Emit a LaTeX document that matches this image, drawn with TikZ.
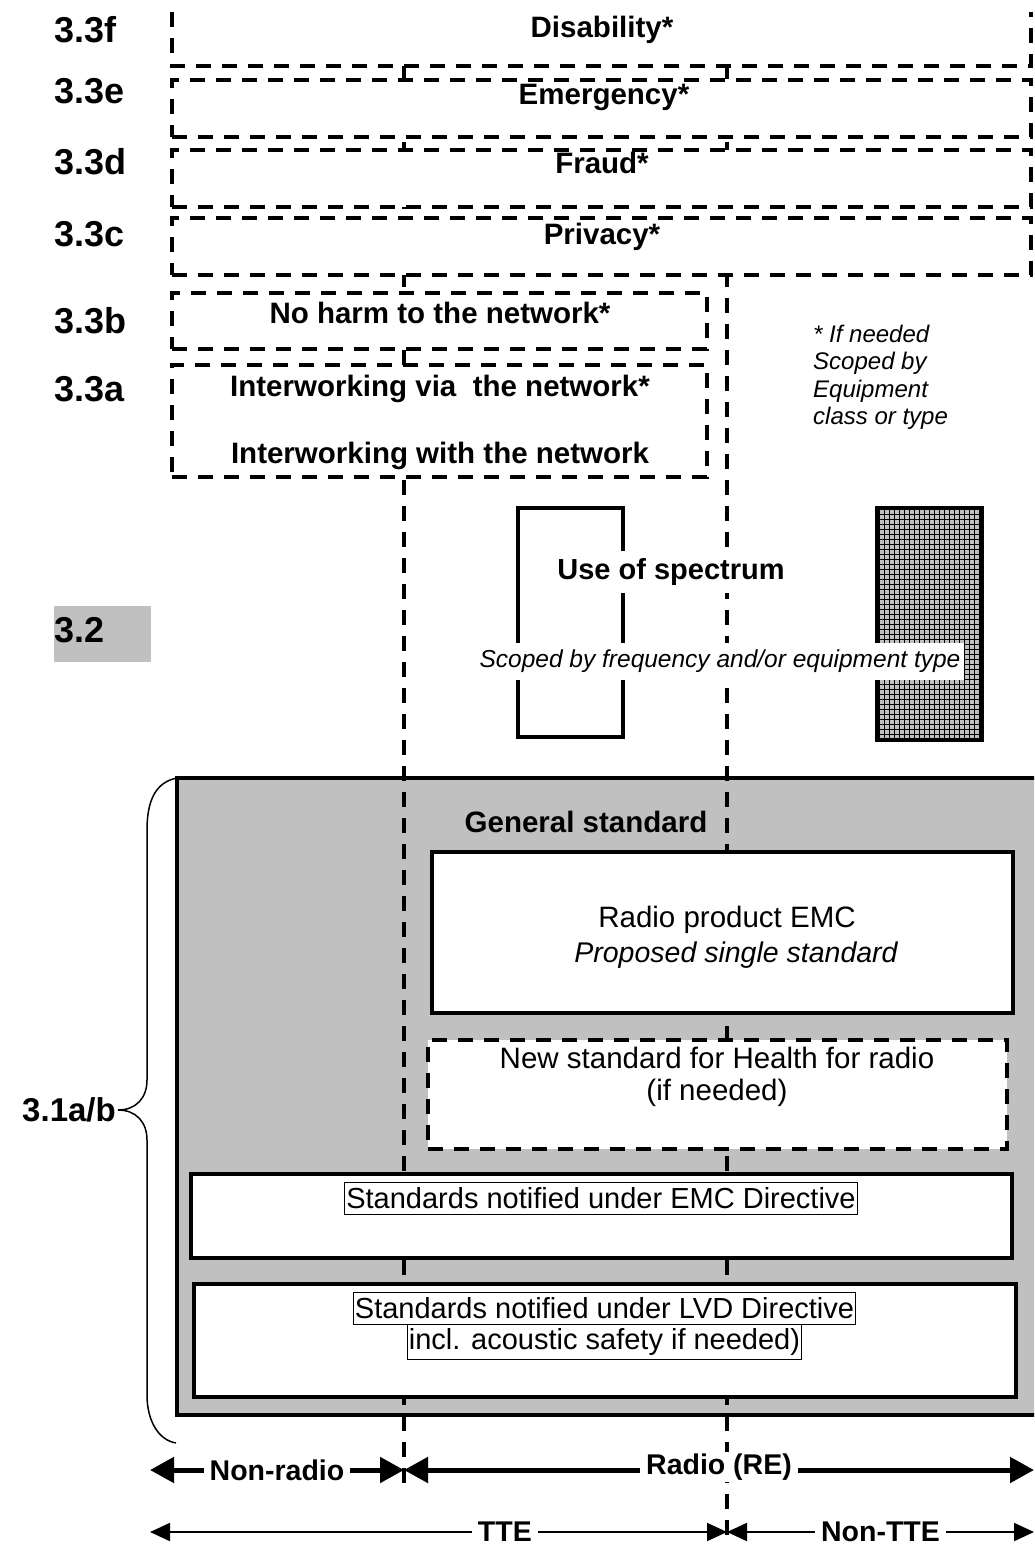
\documentclass[tikz,border=0pt]{standalone}
\usepackage{fontspec}
\setmainfont{Liberation Sans}
\usetikzlibrary{arrows.meta}
\definecolor{boxgray}{RGB}{192,192,192}
\newcommand{\myfs}[1]{\fontsize{#1pt}{#1pt}\selectfont}
\begin{document}
\begin{tikzpicture}[x=1pt,y=-1pt,
  dpat/.style={line width=3.2pt, dash pattern=on 15pt off 11pt},
  dbox/.style={draw, dpat, fill=white, inner sep=0pt, outer sep=0pt, anchor=north west},
  sbox/.style={draw, line width=3.2pt, fill=white, inner sep=0pt, outer sep=0pt, anchor=north west},
  lbl/.style={font=\bfseries\myfs{36}, anchor=base west, inner sep=0pt},
  ttl/.style={font=\bfseries\myfs{29.5}, anchor=base, inner sep=0pt},
  txt/.style={font=\myfs{29.5}, inner sep=0pt},
  frm/.style={draw, line width=1pt, fill=white, font=\myfs{29}, inner xsep=1.5pt, inner ysep=0pt, outer sep=0pt, minimum height=32pt},
  fn/.style={font=\itshape\myfs{24}, anchor=base west, inner sep=0pt},
  arrlbl/.style={fill=white, font=\bfseries\myfs{28.5}, inner xsep=6pt, inner ysep=2pt},
  bigtip/.style={line width=5pt, {Triangle[length=24pt,width=25pt]}-{Triangle[length=24pt,width=25pt]}},
  smalltip/.style={line width=2pt, {Triangle[length=20pt,width=18pt]}-{Triangle[length=20pt,width=18pt]}}
]
\useasboundingbox (0,0) rectangle (1034,1546);
\clip (0,0) rectangle (1034,1546);

% big gray box
\node[draw, line width=3.2pt, fill=boxgray, inner sep=0pt, outer sep=0pt, anchor=north west,
      minimum width=865pt, minimum height=637pt] (gbox) at (177,778) {};

% 3.2 gray label background
\node[fill=boxgray, inner sep=0pt, anchor=north west, minimum width=97pt, minimum height=56pt] (g32) at (54,606) {};

% vertical dashed separators
\coordinate (vA0) at (404,12);
\coordinate (vA1) at (404,1493);
\coordinate (vB0) at (727,12);
\coordinate (vB1) at (727,1546);
\draw[dpat] (vA0) -- (vA1);
\draw[dpat] (vB0) -- (vB1);

% top box (3.3f), open at top
\fill[white] (172,12) rectangle (1031,66);
\draw[dpat] (172,12) -- (172,66) -- (1031,66) -- (1031,12);
\node[dbox, minimum width=859pt, minimum height=57pt] (be) at (172,80) {};
\node[dbox, minimum width=859pt, minimum height=57pt] (bd) at (172,150) {};
\node[dbox, minimum width=859pt, minimum height=57pt] (bc) at (172,218) {};
\node[dbox, minimum width=535pt, minimum height=56pt] (bb) at (172,293) {};
\node[dbox, minimum width=535pt, minimum height=112pt] (ba) at (172,365) {};

% titles
\node[ttl] (tf) at (602,38) {Disability*};
\node[ttl] (te) at (604,105) {Emergency*};
\node[ttl] (td) at (602,174) {Fraud*};
\node[ttl] (tc) at (602,245) {Privacy*};
\node[ttl] (tb) at (440,323) {No harm to the network*};
\node[ttl] (ta1) at (440,396) {Interworking via\ \ the network*};
\node[ttl] (ta2) at (440,463) {Interworking with the network};

% left labels
\node[lbl] (l3f) at (54,43) {3.3f};
\node[lbl] (l3e) at (54,104) {3.3e};
\node[lbl] (l3d) at (54,175) {3.3d};
\node[lbl] (l3c) at (54,247) {3.3c};
\node[lbl] (l3b) at (54,333) {3.3b};
\node[lbl] (l3a) at (54,401) {3.3a};
\node[lbl] (l32) at (54,642) {3.2};
\node[font=\bfseries\myfs{33}, anchor=east, inner sep=0pt] (l31) at (116,1110) {3.1a/b};

% footnote
\node[fn] (fn1) at (813,342) {* If needed};
\node[fn] (fn2) at (813,369) {Scoped by};
\node[fn] (fn3) at (813,397) {Equipment};
\node[fn] (fn4) at (813,424) {class or type};

% use of spectrum
\node[sbox, minimum width=105pt, minimum height=229pt] (spec) at (518,508) {};
\node[fill=white, font=\bfseries\myfs{29}, inner xsep=5pt, inner ysep=0pt, minimum height=42pt] (spect) at (671,572) {Use of spectrum};
\node[draw, line width=3.5pt, fill=boxgray, inner sep=0pt, outer sep=0pt, anchor=north west,
      minimum width=105pt, minimum height=232pt,
      path picture={\draw[line width=0.6pt, step=5pt] (path picture bounding box.south west) grid (path picture bounding box.north east);}] (hatch) at (877,508) {};
\node[fill=white, font=\itshape\myfs{24.5}, inner xsep=4pt, inner ysep=0pt, minimum height=37pt] (scoped) at (720,661) {Scoped by frequency and/or equipment type};

% general standard area
\node[ttl, anchor=center] (gen) at (586,822) {General standard};
\node[sbox, minimum width=581pt, minimum height=161pt] (remc) at (432,852) {};
\node[txt] (remc1) at (727,920) {Radio product EMC};
\node[txt, font=\itshape\myfs{28.5}] (remc2) at (736,955) {Proposed single standard};
\node[dbox, minimum width=579pt, minimum height=109pt] (health) at (428,1040) {};
\node[txt] (health1) at (717,1058) {New standard for Health for radio};
\node[txt] (health2) at (717,1093) {(if needed)};

\node[sbox, minimum width=821pt, minimum height=84pt] (emc) at (191,1174) {};
\node[frm] (emct) at (601,1198) {Standards notified under EMC Directive};
\node[sbox, minimum width=822pt, minimum height=113pt] (lvd) at (194,1284) {};
\node[frm] (lvdt1) at (604.5,1308) {Standards notified under LVD Directive};
\node[frm, anchor=north, minimum height=35pt] (lvdt2) at (lvdt1.south) {incl. acoustic safety if needed)};

% brace
\draw[line width=1.5pt] (177,778) .. controls (156,782) and (147,800) .. (147,830)
  -- (147,1080) .. controls (147,1098) and (136,1110) .. (118,1110)
  .. controls (136,1110) and (147,1122) .. (147,1140)
  -- (147,1395) .. controls (147,1420) and (158,1440) .. (176,1443);

% bottom arrows
\coordinate (aL1) at (150,1470);
\coordinate (aM1) at (404,1470);
\coordinate (aR1) at (1034,1470);
\coordinate (aL2) at (150,1532);
\coordinate (aM2) at (727,1532);
\coordinate (aR2) at (1034,1532);
\draw[bigtip] (aL1) -- node[arrlbl] (nr) {Non-radio} (aM1);
\draw[bigtip] (aM1) -- node[arrlbl, yshift=3pt] (rad) {Radio (RE)} (aR1);
\draw[smalltip] (aL2) -- node[arrlbl, pos=0.615] (tte) {TTE} (aM2);
\draw[smalltip] (aM2) -- node[arrlbl] (ntte) {Non-TTE} (aR2);
\end{tikzpicture}
\end{document}
